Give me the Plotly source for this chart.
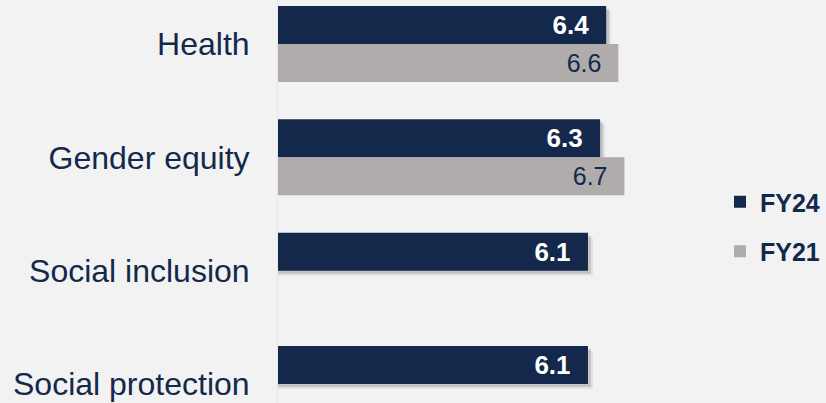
import plotly.graph_objects as go

categories = ["Health", "Gender equity", "Social inclusion", "Social protection"]
fy24 = [6.4, 6.3, 6.1, 6.1]
fy21 = [6.6, 6.7, None, None]
series_names = ["FY24", "FY21"]

NAVY = "#14284B"
GREY = "#AFACAB"
TEXT = "#13294B"
BG = "#F2F2F2"
FONT = "Liberation Sans, Arial, sans-serif"

W = 0.335      # bar thickness in category units
PX_Y = 113.33  # pixels per category
PX_X = 60.8    # pixels per x unit

fig = go.Figure()

# soft drop shadows under FY24 bars
for dpx, alpha in [(5, 0.06), (3, 0.14)]:
    fig.add_trace(go.Bar(
        y=categories, x=[v + dpx / PX_X for v in fy24], orientation="h",
        offset=-W + dpx / PX_Y, width=W,
        marker=dict(color=f"rgba(0,0,0,{alpha})", line=dict(width=0)),
        showlegend=False, hoverinfo="skip", legendgroup="a",
    ))

fig.add_trace(go.Bar(
    y=categories, x=fy24, orientation="h", name=series_names[0],
    offset=-W, width=W,
    marker=dict(color=NAVY, line=dict(width=0)),
    text=[f"{v:.1f}\u00a0\u00a0" for v in fy24],
    textposition="inside", insidetextanchor="end",
    insidetextfont=dict(family=FONT, size=26, color="white", weight="bold"),
    legendgroup="a",
))
fig.add_trace(go.Bar(
    y=categories, x=fy21, orientation="h", name=series_names[1],
    offset=0, width=W,
    marker=dict(color=GREY, line=dict(width=0)),
    text=[(f"{v:.1f}\u00a0\u00a0" if v is not None else "") for v in fy21],
    textposition="inside", insidetextanchor="end",
    insidetextfont=dict(family=FONT, size=25, color=TEXT),
    legendgroup="b",
))

fig.update_layout(
    width=826, height=403,
    margin=dict(l=278, r=1, t=0, b=0, autoexpand=False),
    paper_bgcolor=BG, plot_bgcolor=BG,
    barmode="overlay",
    font=dict(family=FONT, color=TEXT),
    xaxis=dict(range=[1, 10], visible=False, showgrid=False, zeroline=False),
    yaxis=dict(
        type="category", categoryorder="array", categoryarray=categories,
        range=[3.168, -0.388], showgrid=False, zeroline=False,
        showline=True, linecolor="#E6E6E6", linewidth=1,
        ticks="", ticklabelstandoff=21, automargin=False,
        tickfont=dict(family=FONT, size=32, color=TEXT),
    ),
    legend=dict(
        x=(720 - 278) / 547, xanchor="left",
        y=1 - 226.5 / 403, yanchor="middle",
        font=dict(family=FONT, size=25, color=TEXT, weight="bold"),
        bgcolor="rgba(0,0,0,0)", tracegroupgap=14,
        traceorder="grouped",
    ),
    showlegend=True,
)

fig.write_html(
    "out.html",
    config={"displayModeBar": False},
    post_script="document.body.style.margin='0';document.body.style.background='#F2F2F2';",
)
